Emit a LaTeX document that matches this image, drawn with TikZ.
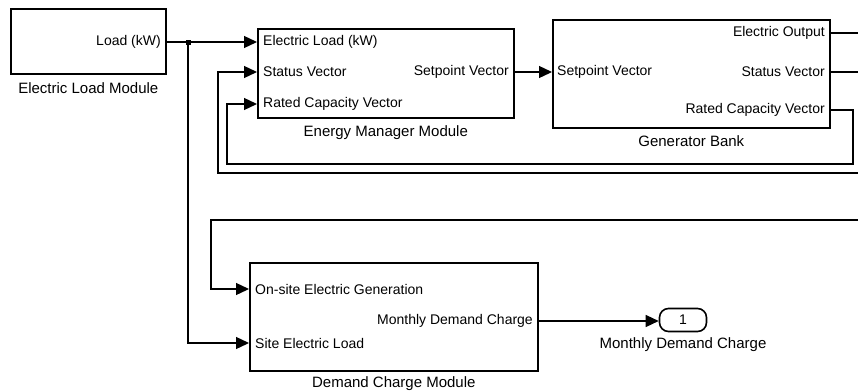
\documentclass[tikz,border=0pt]{standalone}
\usepackage{fontspec}
\setmainfont{Liberation Sans}
\usetikzlibrary{arrows.meta, positioning}

\tikzset{
  block/.style={draw, line width=1.6pt, anchor=north west, inner sep=0pt},
  portin/.style={anchor=west, inner sep=0pt, font=\fontsize{14}{16}\selectfont},
  portout/.style={anchor=east, inner sep=0pt, font=\fontsize{14}{16}\selectfont},
  caption/.style={inner sep=0pt, font=\fontsize{15}{17}\selectfont},
  signal/.style={line width=1.3pt},
  conn/.style={signal, -{Triangle[length=13pt,width=12pt]}},
  junction/.style={rectangle, fill, inner sep=0pt, minimum size=5pt},
  outport/.style={draw, line width=1.6pt, rounded corners=9pt, minimum width=47pt,
    minimum height=23pt, inner sep=0pt, font=\fontsize{14}{16}\selectfont}
}

\begin{document}
\begin{tikzpicture}[x=1pt, y=-1pt]
        \useasboundingbox (0,0) rectangle (858,391);

        %Bloecke
        \node[block, minimum width=155pt, minimum height=65pt] (elm) at (10,8) {};
        \node[block, minimum width=256pt, minimum height=89pt] (emm) at (257,28) {};
        \node[block, minimum width=277pt, minimum height=108pt] (gen) at (552,19) {};
        \node[block, minimum width=288pt, minimum height=108pt] (dcm) at (249,262) {};
        \node[outport] (mdc) at (683,320) {1};

        %Ports
        \node[portout] (elm-load) at (161,42) {Load (kW)};
        \node[portin] (emm-i1) at (263,42) {Electric Load (kW)};
        \node[portin] (emm-i2) at (263,72) {Status Vector};
        \node[portin] (emm-i3) at (263,104) {Rated Capacity Vector};
        \node[portout] (emm-o1) at (509,72) {Setpoint Vector};
        \node[portin] (gen-i1) at (557,72) {Setpoint Vector};
        \node[portout] (gen-o1) at (825,33) {Electric Output};
        \node[portout] (gen-o2) at (825,72) {Status Vector};
        \node[portout] (gen-o3) at (825,110) {Rated Capacity Vector};
        \node[portin] (dcm-i1) at (255,289) {On-site Electric Generation};
        \node[portin] (dcm-i2) at (255,343) {Site Electric Load};
        \node[portout] (dcm-o1) at (533,321) {Monthly Demand Charge};

        %Beschriftung
        \node[caption, below=8pt of elm] (elm-name) {Electric Load Module};
        \node[caption, below=7pt of emm] (emm-name) {Energy Manager Module};
        \node[caption, below=7pt of gen] (gen-name) {Generator Bank};
        \node[caption, below=5pt of dcm] (dcm-name) {Demand Charge Module};
        \node[caption, below=5pt of mdc] (mdc-name) {Monthly Demand Charge};

        %Hilfspunkte
        \node[junction] (jct) at (188,42) {};
        \coordinate (edge) at (858,0);
        \coordinate (rc-a) at (853,164);
        \coordinate (rc-b) at (227,164);
        \coordinate (st-a) at (858,173);
        \coordinate (st-b) at (218,173);
        \coordinate (eo-a) at (858,220);
        \coordinate (eo-b) at (211,220);

        %Verbindungen
        \draw[conn] (elm.east |- elm-load) -- (emm.west |- emm-i1);
        \draw[conn] (jct.center) |- (dcm.west |- dcm-i2);
        \draw[conn] (emm.east |- emm-o1) -- (gen.west |- gen-i1);
        \draw[conn] (gen.east |- gen-o3) -| (rc-a) -- (rc-b) |- (emm.west |- emm-i3);
        \draw[signal] (gen.east |- gen-o2) -- (edge |- gen-o2);
        \draw[signal] (gen.east |- gen-o1) -- (edge |- gen-o1);
        \draw[conn] (st-a) -- (st-b) |- (emm.west |- emm-i2);
        \draw[conn] (eo-a) -- (eo-b) |- (dcm.west |- dcm-i1);
        \draw[conn] (dcm.east |- dcm-o1) -- (mdc.west |- dcm-o1);
    \end{tikzpicture}
\end{document}
